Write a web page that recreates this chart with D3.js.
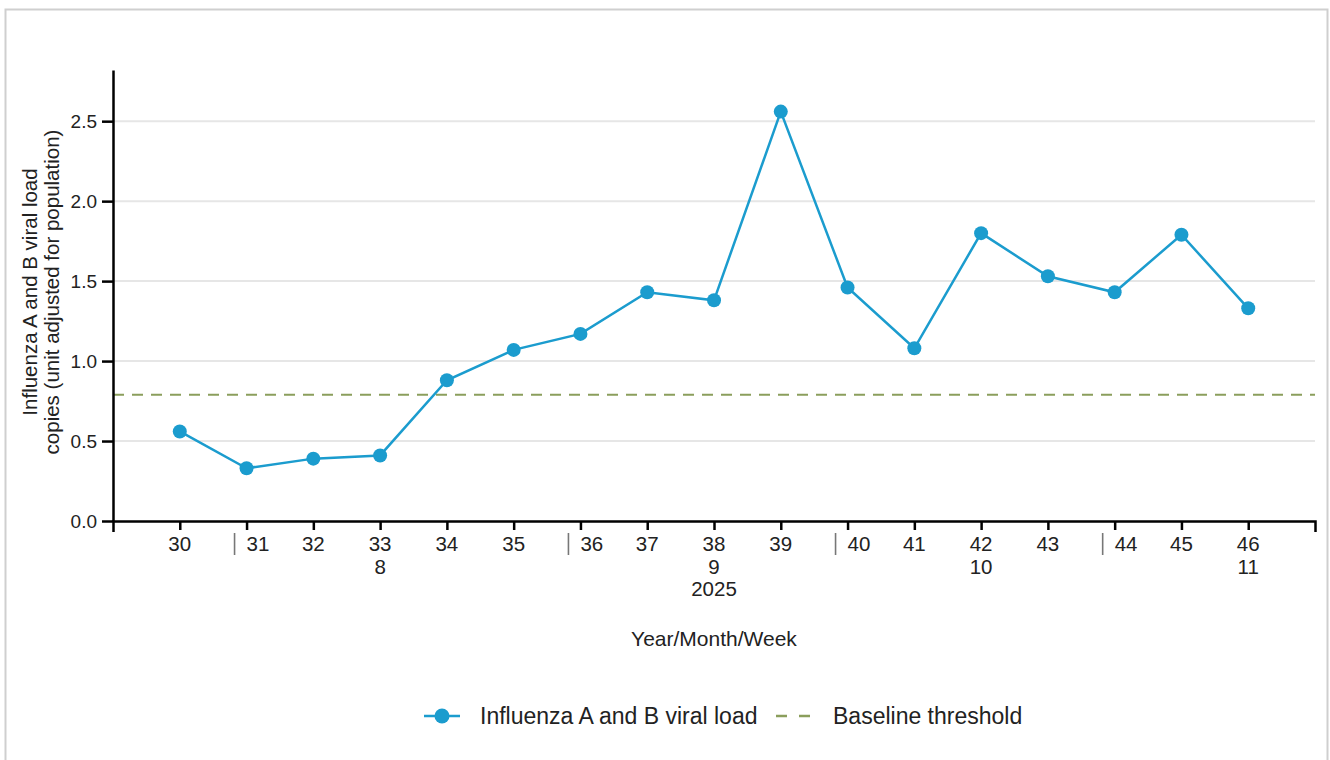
<!DOCTYPE html>
<html>
<head>
<meta charset="utf-8">
<script src="https://cdn.jsdelivr.net/npm/d3@7"></script>
<style>
  body { margin: 0; background: #fff; }
  text { font-family: "Liberation Sans", Arial, sans-serif; fill: #222; }
</style>
</head>
<body>
<div id="chart"></div>
<script>
// week numbers along the x axis
const weeks = [30, 31, 32, 33, 34, 35, 36, 37, 38, 39, 40, 41, 42, 43, 44, 45, 46];
// influenza A and B viral load per week
const viralLoad = [0.56, 0.33, 0.39, 0.41, 0.88, 1.07, 1.17, 1.43, 1.38, 2.56, 1.46, 1.08, 1.80, 1.53, 1.43, 1.79, 1.33];
const baselineThreshold = 0.79;
// weeks that start a new month get a "|" marker
const monthStartWeeks = [31, 36, 40, 44];
// second / third label rows
const monthLabels = [{week: 33, label: "8"}, {week: 38, label: "9"}, {week: 42, label: "10"}, {week: 46, label: "11"}];
const yearLabels = [{week: 38, label: "2025"}];
const yTicks = [0, 0.5, 1.0, 1.5, 2.0, 2.5];

const width = 1330, height = 760;
const margin = {top: 70, right: 15, bottom: 239, left: 113};
const blue = "#1b9cce", olive = "#8b9e5c";

const svg = d3.select("#chart")
  .append("svg")
    .attr("width", width)
    .attr("height", height);

// frame around the chart
svg.append("rect")
  .attr("x", 5.5).attr("y", 9.5)
  .attr("width", 1322).attr("height", 800)
  .attr("fill", "none")
  .attr("stroke", "#cfcfcf")
  .attr("stroke-width", 2);

const x = d3.scaleLinear()
  .domain([29, 47])
  .range([margin.left, width - margin.right]);
const y = d3.scaleLinear()
  .domain([0, 2.82])
  .range([height - margin.bottom, margin.top]);

// gridlines
svg.append("g")
  .selectAll("line")
  .data(yTicks.filter(d => d > 0))
  .join("line")
    .attr("x1", x.range()[0]).attr("x2", x.range()[1])
    .attr("y1", d => y(d)).attr("y2", d => y(d))
    .attr("stroke", "#e6e6e6")
    .attr("stroke-width", 2);

// baseline threshold
svg.append("line")
  .attr("x1", x.range()[0]).attr("x2", x.range()[1])
  .attr("y1", y(baselineThreshold)).attr("y2", y(baselineThreshold))
  .attr("stroke", olive)
  .attr("stroke-width", 2)
  .attr("stroke-dasharray", "11,8");

// y axis
const yAxis = svg.append("g")
  .attr("transform", `translate(${margin.left},0)`)
  .call(d3.axisLeft(y).tickValues(yTicks).tickFormat(d3.format(".1f")).tickSize(11).tickSizeOuter(0).tickPadding(5));
yAxis.select(".domain").attr("stroke-width", 2.5);
yAxis.selectAll(".tick line").attr("stroke-width", 2.5);
yAxis.selectAll("text")
  .style("font-size", "19px")
  .attr("fill", "#222")
  .style("font-family", "Liberation Sans, Arial, sans-serif");

// x axis
const xAxis = svg.append("g")
  .attr("transform", `translate(0,${height - margin.bottom})`)
  .call(d3.axisBottom(x).tickValues(weeks).tickFormat("").tickSize(9).tickSizeOuter(11));
xAxis.select(".domain").attr("stroke-width", 2.5);
xAxis.selectAll(".tick line").attr("stroke-width", 2.5);

const axisY = height - margin.bottom;
const monthSet = new Set(monthStartWeeks);

// week labels
svg.append("g")
  .selectAll("text")
  .data(weeks)
  .join("text")
    .attr("x", d => x(d))
    .attr("y", axisY + 30)
    .attr("text-anchor", d => monthSet.has(d) ? "start" : "middle")
    .style("font-size", "20.5px")
    .text(d => d);

// month boundary markers
svg.append("g")
  .selectAll("line")
  .data(monthStartWeeks)
  .join("line")
    .attr("x1", d => x(d) - 12).attr("x2", d => x(d) - 12)
    .attr("y1", axisY + 12).attr("y2", axisY + 34)
    .attr("stroke", "#777")
    .attr("stroke-width", 1.6);

svg.append("g")
  .selectAll("text")
  .data(monthLabels)
  .join("text")
    .attr("x", d => x(d.week))
    .attr("y", axisY + 53)
    .attr("text-anchor", "middle")
    .style("font-size", "20.5px")
    .text(d => d.label);

svg.append("g")
  .selectAll("text")
  .data(yearLabels)
  .join("text")
    .attr("x", d => x(d.week))
    .attr("y", axisY + 75)
    .attr("text-anchor", "middle")
    .style("font-size", "20.5px")
    .text(d => d.label);

// axis titles
svg.append("text")
  .attr("x", (x.range()[0] + x.range()[1]) / 2)
  .attr("y", 646)
  .attr("text-anchor", "middle")
  .style("font-size", "21px")
  .text("Year/Month/Week");

const yTitle = svg.append("text")
  .attr("transform", "translate(0,292) rotate(-90)")
  .attr("text-anchor", "middle")
  .style("font-size", "20.5px");
yTitle.append("tspan").attr("x", 0).attr("y", 37).text("Influenza A and B viral load");
yTitle.append("tspan").attr("x", 0).attr("y", 59).text("copies (unit adjusted for population)");

// series line + points
const line = d3.line()
  .x((d, i) => x(weeks[i]))
  .y(d => y(d));

svg.append("path")
  .datum(viralLoad)
  .attr("fill", "none")
  .attr("stroke", blue)
  .attr("stroke-width", 2.5)
  .attr("d", line);

svg.append("g")
  .selectAll("circle")
  .data(viralLoad)
  .join("circle")
    .attr("cx", (d, i) => x(weeks[i]))
    .attr("cy", d => y(d))
    .attr("r", 7)
    .attr("fill", blue);

// legend
const legend = svg.append("g").attr("transform", "translate(0,716)");
legend.append("line")
  .attr("x1", 424).attr("x2", 460)
  .attr("stroke", blue).attr("stroke-width", 2.5);
legend.append("circle")
  .attr("cx", 442).attr("r", 7.5)
  .attr("fill", blue);
legend.append("text")
  .attr("x", 480).attr("dy", "0.35em")
  .style("font-size", "23px")
  .text("Influenza A and B viral load");
legend.append("line")
  .attr("x1", 776).attr("x2", 811)
  .attr("stroke", olive).attr("stroke-width", 2.5)
  .attr("stroke-dasharray", "11,12");
legend.append("text")
  .attr("x", 833).attr("dy", "0.35em")
  .style("font-size", "23px")
  .text("Baseline threshold");
</script>
</body>
</html>
